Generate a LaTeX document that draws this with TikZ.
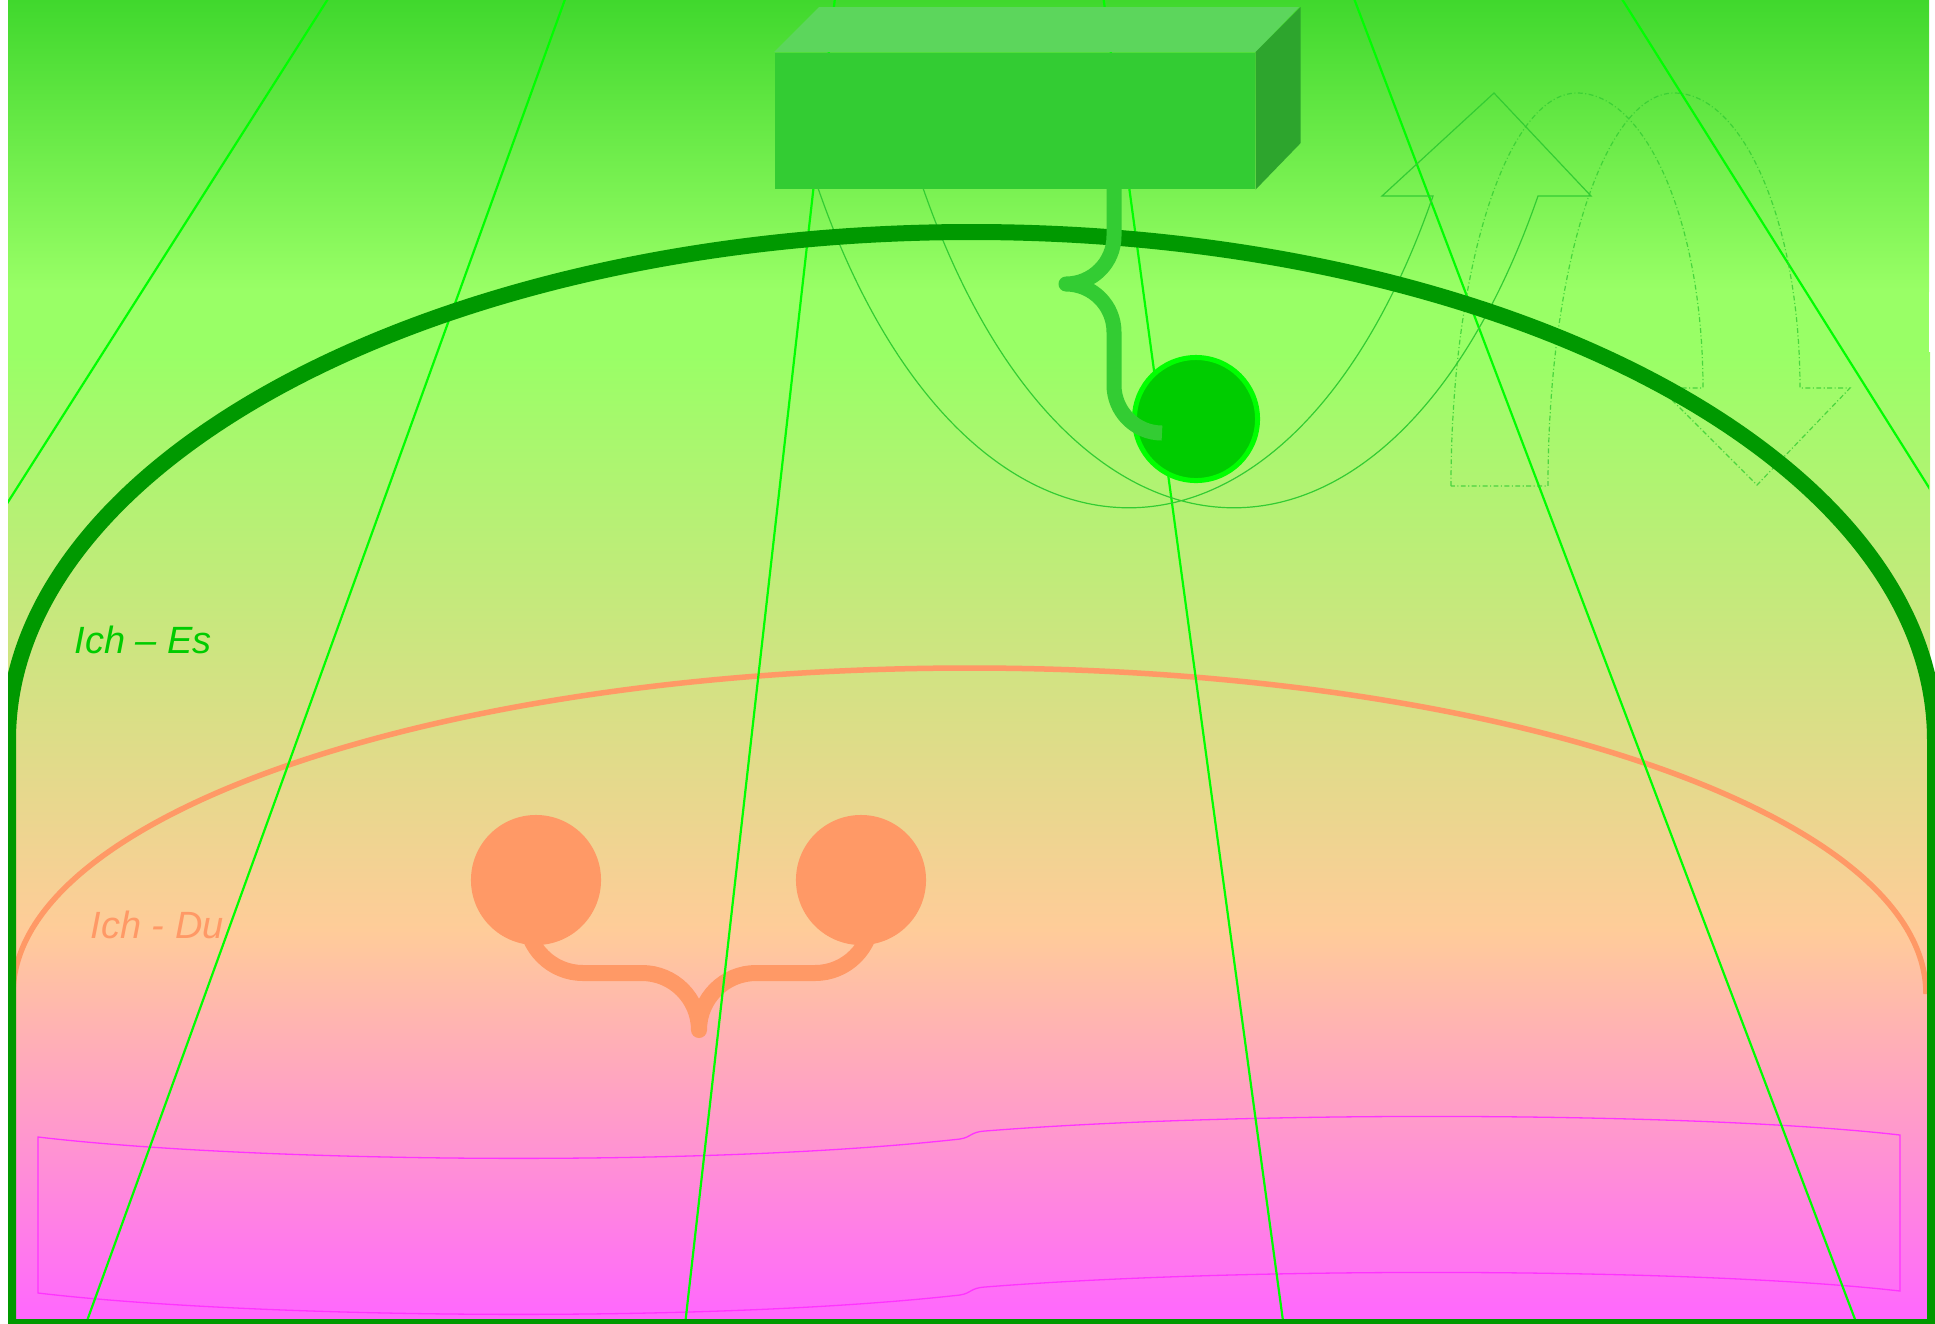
\documentclass[tikz,border=0pt]{standalone}
\usepackage{fontspec}
\newfontfamily\labfont{Liberation Sans}
\definecolor{bgA}{HTML}{40D82D}
\definecolor{bgB}{HTML}{99FF66}
\definecolor{bgC}{HTML}{FFCC99}
\definecolor{bgD}{HTML}{FF66FF}
\definecolor{domeG}{HTML}{009900}
\definecolor{lineG}{HTML}{00FF00}
\definecolor{boxF}{HTML}{33CC33}
\definecolor{boxT}{HTML}{5CD65C}
\definecolor{boxR}{HTML}{2DA52D}
\definecolor{ballF}{HTML}{00CC00}
\definecolor{peach}{HTML}{FF9966}
\definecolor{mag}{HTML}{FF33FF}
\definecolor{labG}{HTML}{00CC00}
\begin{document}
\begin{tikzpicture}[x=0.01cm,y=-0.01cm,
  persp/.style={draw=lineG,line width=0.022cm},
  uarrow/.style={draw=boxF,line width=0.012cm,line join=miter},
  darrow/.style={draw=boxF,draw opacity=0.8,line width=0.012cm,dash pattern=on 1.4pt off 0.7pt on 0.3pt off 0.7pt},
  bracepath/.style={line cap=butt,line join=round},
  lbl/.style={anchor=base west,inner sep=0pt,font=\labfont\itshape\fontsize{10.8pt}{13pt}\selectfont}]
\useasboundingbox (0,0) rectangle (1935,1323);
% background
\shade[top color=bgA,bottom color=bgB] (8,0) rectangle (1929,291);
\fill[bgB] (8,290) rectangle (1929,353);
\shade[top color=bgB,bottom color=bgC] (8,352) rectangle (1930,931);
\shade[top color=bgC,bottom color=bgD] (8,930) rectangle (1930,1323);
% magenta band
\draw[mag,line width=0.013cm] (38,1137) .. controls (250,1162) and (700,1168) .. (960,1139) .. controls (972,1137) and (970,1132) .. (985,1131) .. controls (1250,1110) and (1700,1112) .. (1900,1135) -- (1900,1291) .. controls (1700,1268) and (1250,1266) .. (985,1287) .. controls (970,1288) and (972,1293) .. (960,1295) .. controls (700,1324) and (250,1318) .. (38,1293) -- cycle;
% orange arc
\draw[peach,line width=0.055cm] (13,994) .. controls (13,814) and (441.2,668) .. (969.5,668) .. controls (1497.8,668) and (1926,814) .. (1926,994);
% orange circles and brace
\node[circle,fill=peach,inner sep=0pt,minimum size=1.3cm] (du1) at (536,880) {};
\node[circle,fill=peach,inner sep=0pt,minimum size=1.3cm] (du2) at (861,880) {};
\draw[peach,line width=0.16cm,bracepath] ([shift={(-10,36)}]du1.center) .. controls (526,947.5) and (551.5,973) .. (583,973) -- (642,973) .. controls (673.5,973) and (699,998.5) .. (699,1030) .. controls (699,998.5) and (724.5,973) .. (756,973) -- (815,973) .. controls (846.5,973) and (872,947.5) .. ([shift={(11,36)}]du2.center);
% perspective lines
\begin{scope}
\clip (8,0) rectangle (1929,1323);
\draw[persp] (340,-20) -- (-20,546);
\draw[persp] (572,-20) -- (79,1343);
\draw[persp] (837,-20) -- (683,1343);
\draw[persp] (1101,-20) -- (1286,1343);
\draw[persp] (1347,-20) -- (1864,1343);
\draw[persp] (1610,-20) -- (1950,521);
\end{scope}
% faint arrows
\draw[uarrow] (810,165) -- (818,188) .. controls (964,609) and (1287,617) .. (1433,196) -- (1382,196) -- (1494,93) -- (1591,196) -- (1538,196) .. controls (1392,617) and (1069,609) .. (923,188) -- (915,165) -- cycle;
\draw[darrow] (1451,486) .. controls (1451,269) and (1507,93) .. (1577,93) .. controls (1647,93) and (1703,225) .. (1703,388) -- (1660,388) -- (1757,485) -- (1850,388) -- (1800,388) .. controls (1800,225) and (1744,93) .. (1674,93) .. controls (1604,93) and (1548,269) .. (1548,486) -- cycle;
% dome
\begin{scope}
\clip (8,0) rectangle (1935,1323);
\draw[domeG,line width=0.16cm] (8,1327) -- (8,740) .. controls (8,459.4) and (439.4,232) .. (971.5,232) .. controls (1503.6,232) and (1935,459.4) .. (1935,740) -- (1935,1327) -- cycle;
\end{scope}
% green ball and brace
\node[circle,draw=lineG,fill=ballF,line width=0.05cm,inner sep=0pt,minimum size=1.23cm] (ball) at (1196,419) {};
\coordinate (gtop) at (1114,130);
\coordinate (gend) at (1162,433);
\draw[boxF,line width=0.15cm,bracepath] (gtop) -- (1114,236) .. controls (1114,262.5) and (1092.5,284) .. (1066,284) .. controls (1092.5,284) and (1114,305.5) .. (1114,332) -- (1114,385) .. controls (1114,411.5) and (1135.5,433) .. (gend);
% box
\node[fill=boxF,inner sep=0pt,minimum width=4.8cm,minimum height=1.36cm,anchor=north west] (box) at (774,52) {};
\fill[boxT] (box.north west) -- ++(45,-45) -- ++(480,0) -- (box.north east) -- cycle;
\fill[boxR] (box.north east) -- ++(45,-45) -- ++(0,136) -- (box.south east) -- cycle;
% labels
\node[lbl,text=labG] (es) at (74,653) {Ich – Es};
\node[lbl,text=peach] (du) at (90,938) {Ich - Du};
\end{tikzpicture}
\end{document}
